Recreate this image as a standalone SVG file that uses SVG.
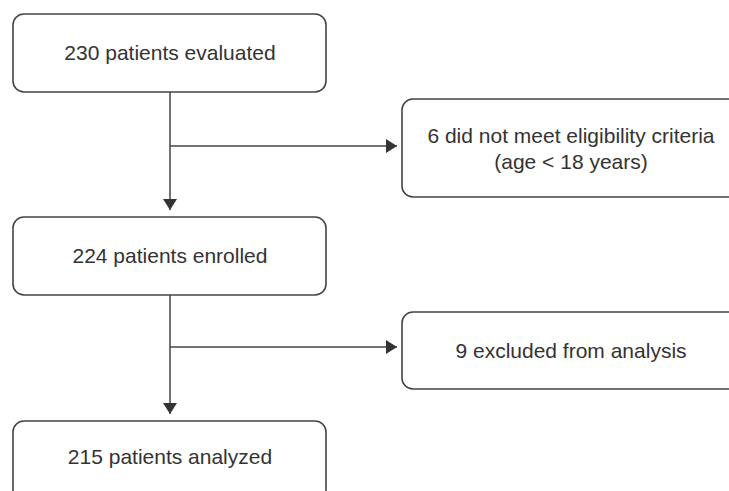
<svg xmlns="http://www.w3.org/2000/svg" width="729" height="491" viewBox="0 0 729 491">
<style>
.box{fill:#fff;stroke:#444;stroke-width:1.6}
.t{font-family:"Liberation Sans",Arial,sans-serif;font-size:21px;fill:#333;text-anchor:middle}
.c{stroke:#444;stroke-width:1.5;fill:none}
</style>
<defs>
<marker id="ah" markerWidth="14" markerHeight="14" refX="11" refY="7" orient="auto" markerUnits="userSpaceOnUse">
<path d="M0,0 L11,7 L0,14 Z" fill="#333"/>
</marker>
</defs>
<rect width="729" height="491" fill="#fff"/>
<g id="connectors">
<line class="c" x1="170" y1="92" x2="170" y2="210" marker-end="url(#ah)"/>
<line class="c" x1="170" y1="146" x2="397" y2="146" marker-end="url(#ah)"/>
<line class="c" x1="170" y1="295" x2="170" y2="414" marker-end="url(#ah)"/>
<line class="c" x1="170" y1="347" x2="397" y2="347" marker-end="url(#ah)"/>
</g>
<g id="n1">
<rect class="box" x="13" y="14" width="313" height="78" rx="11"/>
<text class="t" x="170" y="60">230 patients evaluated</text>
</g>
<g id="n2">
<rect class="box" x="402" y="99" width="340" height="98" rx="11"/>
<text class="t" x="571" y="143">6 did not meet eligibility criteria</text>
<text class="t" x="571" y="169">(age &lt; 18 years)</text>
</g>
<g id="n3">
<rect class="box" x="13" y="217" width="313" height="78" rx="11"/>
<text class="t" x="170" y="263">224 patients enrolled</text>
</g>
<g id="n4">
<rect class="box" x="402" y="312" width="340" height="77" rx="11"/>
<text class="t" x="571" y="358">9 excluded from analysis</text>
</g>
<g id="n5">
<rect class="box" x="13" y="421" width="313" height="80" rx="11"/>
<text class="t" x="170" y="464">215 patients analyzed</text>
</g>
</svg>
